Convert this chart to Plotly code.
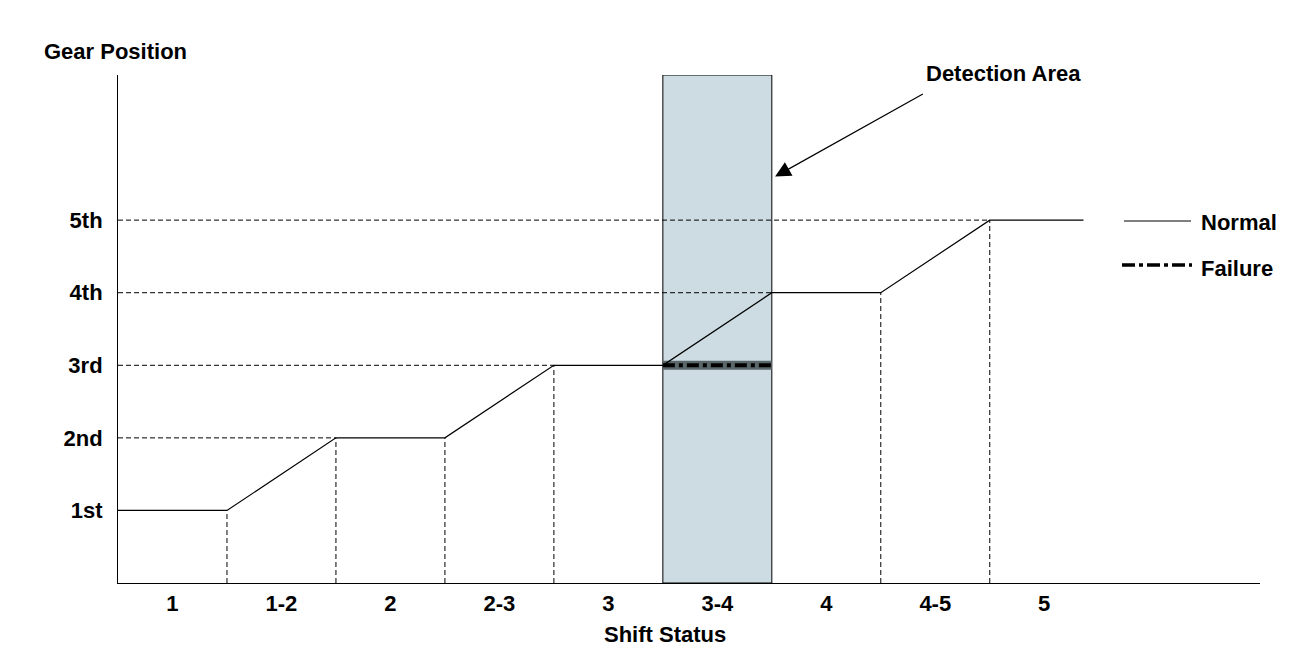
import plotly.graph_objects as go

# ---- data ----
shift_labels = ["1", "1-2", "2", "2-3", "3", "3-4", "4", "4-5", "5"]
shift_centers = [0.5, 1.5, 2.5, 3.5, 4.5, 5.5, 6.5, 7.5, 8.5]
gear_labels = ["1st", "2nd", "3rd", "4th", "5th"]
gear_values = [1, 2, 3, 4, 5]

normal_x = [0, 1, 2, 3, 4, 5, 6, 7, 8, 8.86]
normal_y = [1, 1, 2, 2, 3, 3, 4, 4, 5, 5]

failure_x = [5, 6]
failure_y = [3, 3]

# guide lines: horizontal from axis to where each gear is reached
hguide_level = [2, 3, 4, 5]
hguide_end = [2, 4, 6, 8]
# vertical guide lines at transitions
vguide_x = [1, 2, 3, 4, 7, 8]
vguide_top = [1, 2, 2, 3, 4, 5]

detect_x0, detect_x1 = 5, 6
y_top = 7
x_max = 10.48

FONT = "Liberation Sans, Arial, sans-serif"
FS = 22

fig = go.Figure()

# detection area
fig.add_shape(type="rect", x0=detect_x0, x1=detect_x1, y0=0, y1=y_top,
              xref="x", yref="y", fillcolor="#cddbe2",
              line=dict(color="black", width=1), layer="below")

# horizontal dashed guides
for lv, xe in zip(hguide_level, hguide_end):
    fig.add_trace(go.Scatter(x=[0, xe], y=[lv, lv], mode="lines",
                             line=dict(color="black", width=1, dash="5px,3px"),
                             showlegend=False, hoverinfo="skip"))
# vertical dashed guides
for xv, yt in zip(vguide_x, vguide_top):
    fig.add_trace(go.Scatter(x=[xv, xv], y=[0, yt], mode="lines",
                             line=dict(color="black", width=1, dash="5px,3px"),
                             showlegend=False, hoverinfo="skip"))

# failure: grey band + black dash-dot
fig.add_trace(go.Scatter(x=failure_x, y=failure_y, mode="lines",
                         line=dict(color="#5a676b", width=9),
                         showlegend=False, hoverinfo="skip"))
fig.add_trace(go.Scatter(x=failure_x, y=failure_y, mode="lines",
                         line=dict(color="black", width=4, dash="12px,4px,4px,4px"),
                         name="Failure", showlegend=False))

# normal line
fig.add_trace(go.Scatter(x=normal_x, y=normal_y, mode="lines",
                         line=dict(color="black", width=1.2),
                         name="Normal", showlegend=False))

# custom legend (paper coords; pixel positions of the page)
def px_x(p):
    return (p - 118) / (1260 - 118)

def px_y(p):
    return (583 - p) / (583 - 75)

fig.add_shape(type="line", xref="paper", yref="paper",
              x0=px_x(1124), x1=px_x(1191), y0=px_y(221), y1=px_y(221),
              line=dict(color="black", width=1.2))
fig.add_shape(type="line", xref="paper", yref="paper",
              x0=px_x(1122), x1=px_x(1192), y0=px_y(265), y1=px_y(265),
              line=dict(color="black", width=3.5, dash="13px,4px,4px,4px"))

annotations = [
    dict(text="Normal", xref="paper", yref="paper", x=px_x(1199), y=px_y(222),
         xanchor="left", yanchor="middle", showarrow=False),
    dict(text="Failure", xref="paper", yref="paper", x=px_x(1199), y=px_y(268),
         xanchor="left", yanchor="middle", showarrow=False),
    dict(text="Gear Position", xref="paper", yref="paper", x=px_x(115), y=px_y(51),
         xanchor="center", yanchor="middle", showarrow=False),
    dict(text="Shift Status", xref="paper", yref="paper", x=px_x(665), y=px_y(634),
         xanchor="center", yanchor="middle", showarrow=False),
    dict(text="Detection Area", xref="paper", yref="paper", x=px_x(1003), y=px_y(73),
         xanchor="center", yanchor="middle", showarrow=False),
    dict(text="", x=6.03, y=5.6, xref="x", yref="y",
         ax=7.4, ay=6.75, axref="x", ayref="y",
         showarrow=True, arrowhead=2, arrowsize=2.6, arrowwidth=1.2,
         arrowcolor="black"),
]

# the page body has an 8px margin, so the figure is offset by 8px
fig.update_layout(
    width=1284, height=648,
    margin=dict(l=110, r=32, t=67, b=73),
    paper_bgcolor="white", plot_bgcolor="white",
    font=dict(family=FONT, size=FS, color="black", weight="bold"),
    annotations=annotations,
    showlegend=False,
)
fig.update_xaxes(range=[0, x_max], showgrid=False, zeroline=False,
                 showline=True, linecolor="black", linewidth=1,
                 tickvals=shift_centers, ticktext=shift_labels, ticks="",
                 ticklabelstandoff=1,
                 tickfont=dict(family=FONT, size=FS, color="black", weight="bold"))
fig.update_yaxes(range=[0, y_top], showgrid=False, zeroline=False,
                 showline=True, linecolor="black", linewidth=1,
                 tickvals=gear_values, ticktext=gear_labels, ticks="",
                 ticklabelstandoff=10,
                 tickfont=dict(family=FONT, size=FS, color="black", weight="bold"))

fig.write_html("out.html")
